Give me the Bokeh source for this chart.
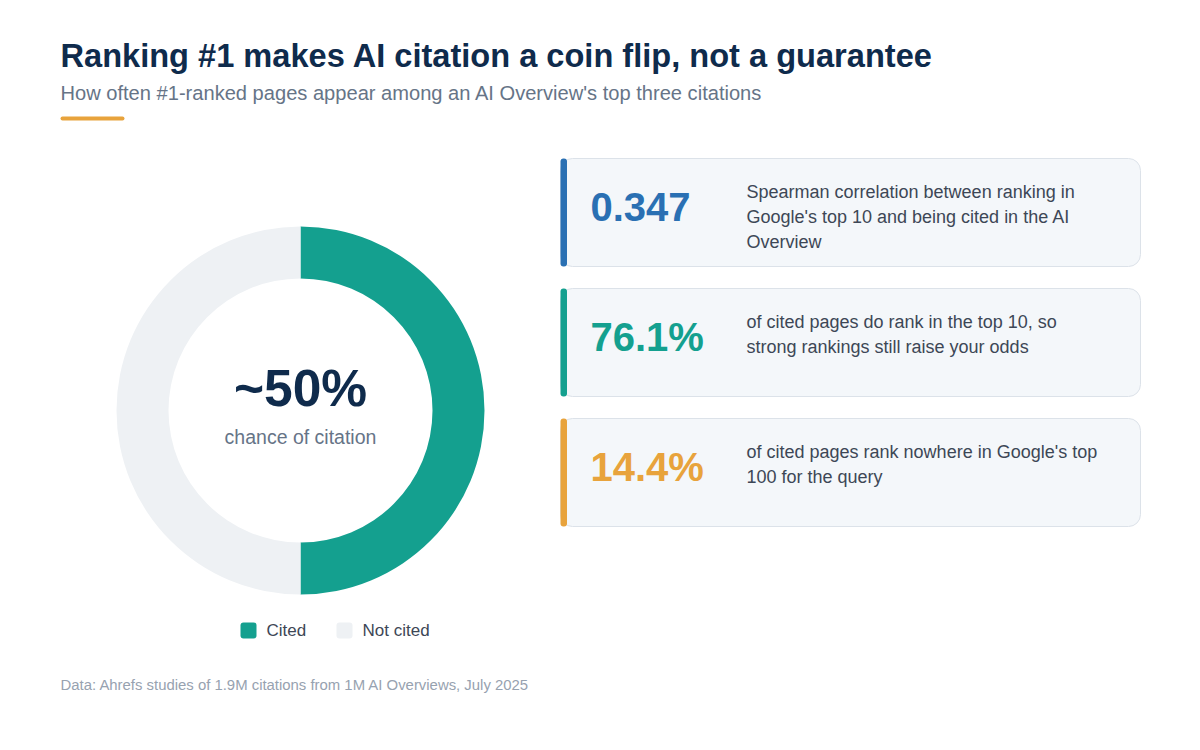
import numpy as np
from bokeh.plotting import figure
from bokeh.models import Range1d, BoxAnnotation, ColumnDataSource
from bokeh.core.properties import value
from bokeh.embed import file_html
from bokeh.resources import INLINE

# ---------------- data ----------------
title = "Ranking #1 makes AI citation a coin flip, not a guarantee"
subtitle = "How often #1-ranked pages appear among an AI Overview's top three citations"
footer = "Data: Ahrefs studies of 1.9M citations from 1M AI Overviews, July 2025"

slice_labels = ["Cited", "Not cited"]
slice_values = [50, 50]
slice_colors = ["#14a08f", "#eef1f4"]
center_value = "~50%"
center_label = "chance of citation"

stat_values = ["0.347", "76.1%", "14.4%"]
stat_colors = ["#2a70b3", "#14a08f", "#e8a33c"]
stat_lines = [
    ["Spearman correlation between ranking in", "Google's top 10 and being cited in the AI", "Overview"],
    ["of cited pages do rank in the top 10, so", "strong rankings still raise your odds"],
    ["of cited pages rank nowhere in Google's top", "100 for the query"],
]

FONT = value("Liberation Sans")
H = 750  # data y = H - screen y

p = figure(width=1184, height=734, x_range=Range1d(0, 1184), y_range=Range1d(16, 750),
           output_backend="svg", toolbar_location=None, min_border=0,
           x_axis_type=None, y_axis_type=None)
p.outline_line_color = None
p.background_fill_color = "white"
p.border_fill_color = "white"
p.grid.visible = False


def Y(sy):
    return H - sy


def txt(x, y, text, size, color, bold=False, align="left"):
    p.text(x=[x], y=[Y(y)], text=[text], text_font=FONT, text_font_size=f"{size}px",
           text_color=color, text_font_style="bold" if bold else "normal",
           text_align=align, text_baseline="alphabetic")


def box(l, r, t, b, color, radius, line=None, lw=1):
    p.add_layout(BoxAnnotation(left=l, right=r, top=Y(t), bottom=Y(b), level="underlay",
                               fill_color=color, fill_alpha=1, line_color=line,
                               line_alpha=1, line_width=lw, border_radius=radius))


# header
txt(60, 55, title, 32.6, "#0f2b4c", bold=True)
txt(60, 92, subtitle, 20.1, "#667487")
box(60, 124, 116, 120, "#e8a33c", 2)

# donut
vals = np.array(slice_values, dtype=float)
fr = vals / vals.sum()
cum = np.concatenate([[0], np.cumsum(fr)])
starts = np.pi / 2 - 2 * np.pi * cum[:-1]
ends = np.pi / 2 - 2 * np.pi * cum[1:]
src = ColumnDataSource(dict(x=[300] * len(vals), y=[Y(410)] * len(vals),
                            start=starts, end=ends, color=slice_colors))
p.annular_wedge(x="x", y="y", inner_radius=132, outer_radius=184,
                inner_radius_units="screen", outer_radius_units="screen",
                start_angle="start", end_angle="end", direction="clock",
                fill_color="color", line_color=None, source=src)
txt(300, 387, center_value, 51.5, "#0f2b4c", bold=True, align="center")
txt(300, 436, center_label, 19.5, "#667487", align="center")

# legend
lx = [240, 336]
for i, lab in enumerate(slice_labels):
    box(lx[i], lx[i] + 16, 622, 638, slice_colors[i], 3)
    txt(lx[i] + 26, 630, lab, 17, "#3d4756")

# stat cards
card_tops = [158, 288, 418]
for i, v in enumerate(stat_values):
    t = card_tops[i]
    box(560, 1140, t, t + 108, "#f4f7fa", 12, line="#dce2e9", lw=1)
    box(560, 566.5, t, t + 108, stat_colors[i], 3)
    txt(590, t + 48, v, 40, stat_colors[i], bold=True)
    for j, line in enumerate(stat_lines[i]):
        txt(746, t + 33 + 25 * j, line, 18, "#3d4756")

# footer
txt(60, 684, footer, 14.9, "#97a2b0")

open("out.html", "w").write(file_html(p, INLINE))
